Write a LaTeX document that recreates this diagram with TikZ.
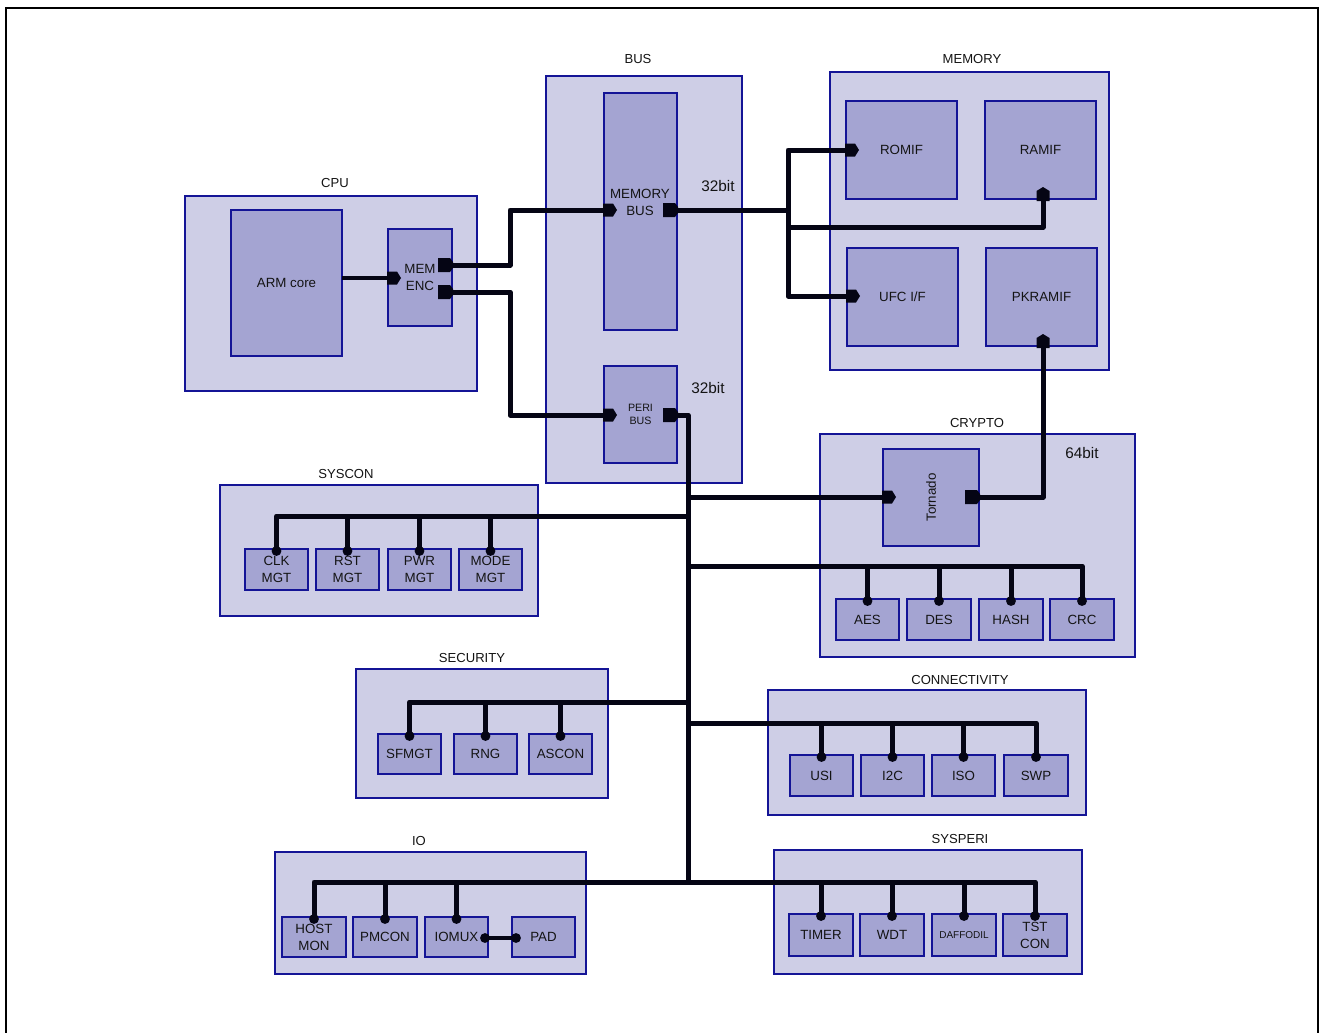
\documentclass[tikz,border=0pt]{standalone}
\usepackage{fontspec}
\setmainfont{Liberation Sans}
\usetikzlibrary{calc}
\definecolor{grpfill}{RGB}{206,206,230}
\definecolor{boxfill}{RGB}{164,164,210}
\definecolor{edgec}{RGB}{20,20,150}
\definecolor{txtc}{RGB}{20,20,20}
\definecolor{portc}{RGB}{5,5,20}
\begin{document}
\begin{tikzpicture}[x=0.75pt,y=-0.75pt,
  bx/.style args={#1,#2,#3,#4}{minimum width={(#3-#1)*0.75pt}, minimum height={(#4-#2)*0.75pt},
      at={({(#1+#3)/2},{(#2+#4)/2})}},
  grp/.style={draw=edgec, fill=grpfill, line width=0.8pt, inner sep=0pt, outer sep=0pt},
  blk/.style={draw=edgec, fill=boxfill, line width=0.8pt, inner sep=0pt, outer sep=0pt, align=center,
              text=txtc, font=\fontsize{10}{12.75}\selectfont},
  ttl/.style={text=txtc, font=\fontsize{9.8}{12}\selectfont, inner sep=0pt},
  bits/.style={text=txtc, font=\fontsize{11.5}{14}\selectfont, inner sep=0pt},
  lbl/.style={text=txtc, align=center, font=\fontsize{10}{12.75}\selectfont, inner sep=0pt},
  bus/.style={draw=portc, line width=3.75pt, line join=round},
  link/.style={draw=portc, line width=3pt, line join=round},
  inport/.pic={\fill[portc] (-1,-6.5) -- (9,-6.5) -- (13,0) -- (9,6.5) -- (-1,6.5) -- cycle;},
  outport/.pic={\fill[portc] (-14,-7) -- (-2,-7) -- (1,-3) -- (1,3) -- (-2,7) -- (-14,7) -- cycle;},
]
\useasboundingbox (0,0) rectangle (1319,1032);
% outer frame
\draw[line width=1.6pt] (6,1045) -- (6,8) -- (1318.5,8) -- (1318.5,1045);

% groups
\node[grp, bx={185,196,477,391}] (cpu) {};
\node[grp, bx={546,76,742,483}] (bus) {};
\node[grp, bx={830,72,1109,370}] (mem) {};
\node[grp, bx={820,434,1135,657}] (crypto) {};
\node[grp, bx={220,485,538,616}] (syscon) {};
\node[grp, bx={356,669,608,798}] (sec) {};
\node[grp, bx={768,690,1086,815}] (conn) {};
\node[grp, bx={275,852,586,974}] (io) {};
\node[grp, bx={774,850,1082,974}] (sysp) {};

% titles
\node[ttl] (cpuT) at (335,183) {CPU};
\node[ttl] (busT) at (638,59) {BUS};
\node[ttl] (memT) at (972,59) {MEMORY};
\node[ttl] (cryT) at (977,423) {CRYPTO};
\node[ttl] (scT) at (346,474) {SYSCON};
\node[ttl] (secT) at (472,658) {SECURITY};
\node[ttl] (cnT) at (960,680) {CONNECTIVITY};
\node[ttl] (ioT) at (419,841) {IO};
\node[ttl] (spT) at (960,839) {SYSPERI};

% bit labels
\node[bits] (b1) at (718,186) {32bit};
\node[bits] (b2) at (708,388) {32bit};
\node[bits] (b3) at (1082,453) {64bit};

% blocks
\node[blk, bx={231,210,342,356}] (arm) {ARM core};
\node[blk, bx={388,229,452,326}] (menc) {MEM\\ENC};
\node[blk, bx={604,93,677,330}] (mbus) {};
\node[lbl] (mbusT) at (640,202) {MEMORY\\BUS};
\node[blk, bx={604,366,677,463}, font=\fontsize{8}{9.7}\selectfont] (pbus) {PERI\\BUS};
\node[blk, bx={846,101,957,199}] (rom) {ROMIF};
\node[blk, bx={985,101,1096,199}] (ram) {RAMIF};
\node[blk, bx={847,248,958,346}] (ufc) {UFC I/F};
\node[blk, bx={986,248,1097,346}] (pkram) {PKRAMIF};
\node[blk, bx={883,449,979,546}] (tor) {\rotatebox{90}{Tornado}};
\node[blk, bx={836,599,899,640}] (aes) {AES};
\node[blk, bx={907,599,971,640}] (des) {DES};
\node[blk, bx={979,599,1043,640}] (hash) {HASH};
\node[blk, bx={1050,599,1114,640}] (crc) {CRC};
\node[blk, bx={245,549,308,590}] (clk) {CLK\\MGT};
\node[blk, bx={316,549,379,590}] (rst) {RST\\MGT};
\node[blk, bx={388,549,451,590}] (pwr) {PWR\\MGT};
\node[blk, bx={459,549,522,590}] (mode) {MODE\\MGT};
\node[blk, bx={378,734,441,774}] (sfmgt) {SFMGT};
\node[blk, bx={454,734,517,774}] (rng) {RNG};
\node[blk, bx={529,734,592,774}] (ascon) {ASCON};
\node[blk, bx={790,755,853,796}] (usi) {USI};
\node[blk, bx={861,755,924,796}] (iic) {I2C};
\node[blk, bx={932,755,995,796}] (iso) {ISO};
\node[blk, bx={1004,755,1068,796}] (swp) {SWP};
\node[blk, bx={282,917,346,957}] (host) {HOST\\MON};
\node[blk, bx={353,917,417,957}] (pmcon) {PMCON};
\node[blk, bx={425,917,488,957}] (iomux) {IOMUX};
\node[blk, bx={512,917,575,957}] (pad) {PAD};
\node[blk, bx={789,914,853,956}] (timer) {TIMER};
\node[blk, bx={860,914,924,956}] (wdt) {WDT};
\node[blk, bx={932,914,996,956}, font=\fontsize{7.5}{9}\selectfont] (daff) {DAFFODIL};
\node[blk, bx={1003,914,1067,956}] (tst) {TST\\CON};

% port coordinates
\coordinate (mencIn) at (388,278);
\coordinate (mencA) at (452,265);
\coordinate (mencB) at (452,292);
\coordinate (mbIn) at (604,210);
\coordinate (mbOut) at (677,210);
\coordinate (pbIn) at (604,415);
\coordinate (pbOut) at (677,415);
\coordinate (romIn) at (846,150);
\coordinate (ramIn) at (1043,195);
\coordinate (ufcIn) at (847,296);
\coordinate (pkOut) at (1043,342);
\coordinate (torIn) at (883,497);
\coordinate (torOut) at (979,497);
\coordinate (memJ) at (788,210);
\coordinate (memJ2) at (788,227);
\coordinate (trunk) at (688,882);
\coordinate (scJ) at (688,516);
\coordinate (crJ) at (688,566);
\coordinate (secJ) at (688,702);
\coordinate (cnJ) at (688,723);

% connectors
\draw[link] (mencIn -| arm.east) -- (mencIn);
\draw[bus] (mencA) -- ++(58,0) |- (mbIn);
\draw[bus] (mencB) -- ++(58,0) |- (pbIn);
\draw[bus] (mbOut) -- (memJ);
\draw[bus] (romIn) -| (memJ) |- (ufcIn);
\draw[bus] (ramIn) |- (memJ2);
\draw[bus] (pkOut) |- (torOut);
\draw[bus] (pbOut) -| (trunk);
\draw[bus] (torIn) -- (torIn -| trunk);
% syscon
\draw[bus] (scJ) -| ($(clk.north)+(0,2)$);
\foreach \n in {rst,pwr,mode} \draw[bus] ($(\n.north)+(0,2)$) -- (\n.north |- scJ);
% crypto
\draw[bus] (crJ) -| ($(crc.north)+(0,2)$);
\foreach \n in {aes,des,hash} \draw[bus] ($(\n.north)+(0,2)$) -- (\n.north |- crJ);
% security
\draw[bus] (secJ) -| ($(sfmgt.north)+(0,2)$);
\foreach \n in {rng,ascon} \draw[bus] ($(\n.north)+(0,2)$) -- (\n.north |- secJ);
% connectivity
\draw[bus] (cnJ) -| ($(swp.north)+(0,2)$);
\foreach \n in {usi,iic,iso} \draw[bus] ($(\n.north)+(0,2)$) -- (\n.north |- cnJ);
% io
\draw[bus] (trunk) -| ($(host.north)+(0,2)$);
\foreach \n in {pmcon,iomux} \draw[bus] ($(\n.north)+(0,2)$) -- (\n.north |- trunk);
% sysperi
\draw[bus] (trunk) -| ($(tst.north)+(0,2)$);
\foreach \n in {timer,wdt,daff} \draw[bus] ($(\n.north)+(0,2)$) -- (\n.north |- trunk);
% iomux - pad
\draw[link] ($(iomux.east)+(-3,1)$) -- ($(pad.west)+(4,1)$);

% dots
\foreach \n in {clk,rst,pwr,mode,aes,des,hash,crc,sfmgt,rng,ascon,usi,iic,iso,swp,host,pmcon,iomux,timer,wdt,daff,tst}
  \fill[portc] ($(\n.north)+(0,2)$) circle (3.7pt);
\fill[portc] ($(iomux.east)+(-3,1)$) circle (3.7pt);
\fill[portc] ($(pad.west)+(4,1)$) circle (3.7pt);

% ports
\pic at (mencIn) {inport};
\pic at (mbIn) {inport};
\pic at (pbIn) {inport};
\pic at (romIn) {inport};
\pic at (ufcIn) {inport};
\pic at (torIn) {inport};
\pic[rotate=90] at ($(ramIn)+(0,5)$) {inport};
\pic[rotate=90] at ($(pkOut)+(0,5)$) {inport};
\pic at (mencA) {outport};
\pic at (mencB) {outport};
\pic at (mbOut) {outport};
\pic at (pbOut) {outport};
\pic at (torOut) {outport};
\end{tikzpicture}
\end{document}
